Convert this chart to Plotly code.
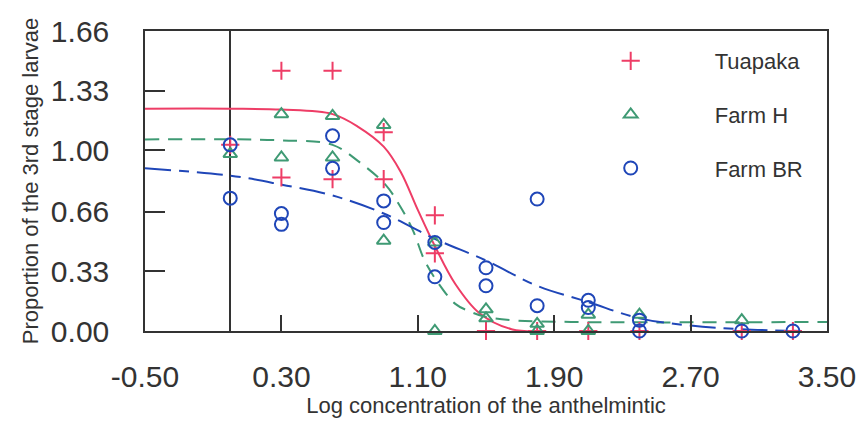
import plotly.graph_objects as go

# ---- data ----
tua_x = [0.0, 0.3, 0.3, 0.6, 0.6, 0.9, 0.9, 1.2, 1.2, 1.5, 1.8, 2.1, 2.4, 3.0, 3.3]
tua_y = [1.03, 1.44, 0.85, 1.44, 0.84, 1.10, 0.84, 0.64, 0.43, 0.0, 0.0, 0.0, 0.0, 0.0, 0.0]

farmh_x = [0.0, 0.3, 0.3, 0.6, 0.6, 0.9, 0.9, 1.2, 1.2, 1.5, 1.5, 1.8, 1.8, 2.1, 2.1, 2.4, 3.0]
farmh_y = [0.98, 1.20, 0.96, 1.19, 0.96, 1.14, 0.50, 0.0, 0.49, 0.12, 0.07, 0.04, 0.0, 0.09, 0.0, 0.09, 0.06]

farmbr_x = [0.0, 0.0, 0.3, 0.3, 0.6, 0.6, 0.9, 0.9, 1.2, 1.2, 1.5, 1.5, 1.8, 1.8, 2.1, 2.1, 2.4, 2.4, 3.0, 3.3]
farmbr_y = [1.03, 0.735, 0.65, 0.59, 1.08, 0.90, 0.72, 0.60, 0.49, 0.30, 0.35, 0.25, 0.73, 0.14, 0.17, 0.13, 0.06, 0.0, 0.0, 0.0]

# fitted curves, points
tua_fit_x = [-0.5, 0.0, 0.3, 0.6, 0.75, 0.9, 1.0, 1.1, 1.2, 1.32, 1.46, 1.65, 1.85]
tua_fit_y = [1.23, 1.23, 1.225, 1.20, 1.13, 1.02, 0.88, 0.67, 0.47, 0.26, 0.10, 0.01, 0.0]

farmh_fit_x = [-0.5, 0.3, 0.6, 0.75, 0.91, 0.99, 1.07, 1.14, 1.22, 1.32, 1.40, 1.49, 1.65, 2.0, 3.5]
farmh_fit_y = [1.06, 1.055, 1.03, 0.94, 0.81, 0.70, 0.56, 0.39, 0.265, 0.15, 0.11, 0.08, 0.06, 0.05, 0.05]

farmbr_fit_x = [-0.5, 0.0, 0.3, 0.6, 0.9, 1.2, 1.5, 1.8, 2.1, 2.4, 2.7, 3.0, 3.35]
farmbr_fit_y = [0.90, 0.86, 0.81, 0.75, 0.65, 0.51, 0.39, 0.25, 0.16, 0.07, 0.03, 0.01, 0.0]

x_ticks = [-0.5, 0.3, 1.1, 1.9, 2.7, 3.5]
x_tick_text = ["-0.50", "0.30", "1.10", "1.90", "2.70", "3.50"]
y_ticks = [0.0, 0.33, 0.66, 1.00, 1.33, 1.66]
y_tick_text = ["0.00", "0.33", "0.66", "1.00", "1.33", "1.66"]

RED = "#ee3d66"
GREEN = "#3f9a74"
BLUE = "#1f46b8"
FONT = "Liberation Sans, Arial, sans-serif"

fig = go.Figure()

fig.add_trace(go.Scatter(x=tua_fit_x, y=tua_fit_y, mode="lines", line=dict(color=RED, width=2, shape="spline"),
                         showlegend=False, hoverinfo="skip"))
fig.add_trace(go.Scatter(x=farmh_fit_x, y=farmh_fit_y, mode="lines",
                         line=dict(color=GREEN, width=2, shape="spline", dash="14px,9px"),
                         showlegend=False, hoverinfo="skip"))
fig.add_trace(go.Scatter(x=farmbr_fit_x, y=farmbr_fit_y, mode="lines",
                         line=dict(color=BLUE, width=2, shape="spline", dash="26px,8px,10px,8px"),
                         showlegend=False, hoverinfo="skip"))

fig.add_trace(go.Scatter(x=tua_x, y=tua_y, mode="markers", name="Tuapaka", legendgroup="a",
                         marker=dict(symbol="cross-thin-open", size=13, color=RED, line=dict(color=RED, width=2)),
                         cliponaxis=False))
fig.add_trace(go.Scatter(x=farmh_x, y=farmh_y, mode="markers", name="Farm H", legendgroup="b",
                         marker=dict(symbol="triangle-up-open", size=12, color=GREEN, line=dict(color=GREEN, width=2)),
                         cliponaxis=False))
fig.add_trace(go.Scatter(x=farmbr_x, y=farmbr_y, mode="markers", name="Farm BR", legendgroup="c",
                         marker=dict(symbol="circle-open", size=13, color=BLUE, line=dict(color=BLUE, width=2)),
                         cliponaxis=False))

axis_common = dict(showline=True, linecolor="#333", linewidth=1.5, mirror=True, showgrid=False,
                   ticks="inside", tickcolor="#333", tickwidth=1.5,
                   tickfont=dict(family=FONT, size=30, color="#333"))

fig.update_layout(
    width=868, height=428,
    margin=dict(l=145, r=37, t=31, b=97),
    paper_bgcolor="white", plot_bgcolor="white",
    font=dict(family=FONT, color="#333"),
    xaxis=dict(range=[-0.5, 3.5], tickvals=x_ticks, ticktext=x_tick_text, ticklen=16,
               zeroline=True, zerolinecolor="#333", zerolinewidth=1.5, ticklabelstandoff=18,
               title=dict(text="Log concentration of the anthelmintic", font=dict(family=FONT, size=22, color="#333"),
                          standoff=4),
               **axis_common),
    yaxis=dict(range=[0, 1.66], tickvals=y_ticks, ticktext=y_tick_text, ticklen=20, zeroline=False,
               ticklabelstandoff=28,
               title=dict(text="Proportion of the 3rd stage larvae", font=dict(family=FONT, size=22, color="#333"),
                          standoff=6),
               **axis_common),
    legend=dict(x=0.589, y=0.97, xanchor="left", yanchor="top", bgcolor="rgba(0,0,0,0)",
                font=dict(family=FONT, size=22, color="#333"), tracegroupgap=22, itemwidth=158),
)

fig.write_html("out.html")
